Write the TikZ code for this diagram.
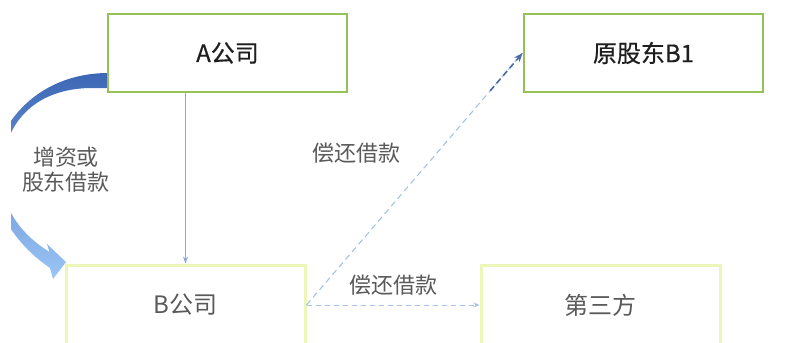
\documentclass[tikz,border=0pt]{standalone}
\usepackage{fontspec}
\setmainfont{Noto Sans CJK SC}
\newfontfamily\cjkmed[FakeBold=0.6]{Noto Sans CJK SC}
\usetikzlibrary{arrows.meta,calc}
\definecolor{boxgreen}{HTML}{96C158}
\definecolor{boxlight}{HTML}{ECF6B8}
\definecolor{arcdark}{HTML}{3C67B5}
\definecolor{arcmid}{HTML}{5E8ED6}
\definecolor{arclight}{HTML}{9CC6F6}
\definecolor{linkblue}{HTML}{8EA8DA}
\definecolor{dashblue}{HTML}{A6C2EA}
\definecolor{dashdark}{HTML}{4A69A6}
\definecolor{txtgray}{HTML}{5A5A5A}
\begin{document}
\begin{tikzpicture}[x=1pt,y=-1pt,
  mainbox/.style={draw=boxgreen, line width=2.8pt, fill=white, minimum width=239pt, minimum height=78pt, inner sep=0pt, font=\cjkmed\fontsize{24}{28}\selectfont, text=black!88},
  lightbox/.style={draw=boxlight, line width=3pt, fill=white, minimum width=239pt, minimum height=80pt, inner sep=0pt, font=\fontsize{24}{28}\selectfont, text=txtgray},
  lbl/.style={font=\fontsize{22}{25}\selectfont, text=txtgray, align=center, inner sep=0pt},
  dashlink/.style={dashblue, line width=1.1pt, dash pattern=on 6pt off 4pt}]
\useasboundingbox (0,0) rectangle (796,343);
\clip (0,0) rectangle (796,343);
% curved arrow
\begin{scope}
\clip (11,0) rectangle (796,343);
\shade[top color=arcdark, middle color=arcmid, bottom color=arclight]
  (108,73) .. controls (58,73) and (12,100) .. (-6,155)
  .. controls (-14,200) and (12,242) .. (50,268)
  -- (53,279) -- (66,262) -- (47,244) -- (49.5,252)
  .. controls (24,236) and (2,212) .. (2,175)
  .. controls (2,125) and (33,89) .. (90,88) -- (108,88) -- cycle;
\end{scope}
% boxes
\node[mainbox] (A) at (227.5,53) {A公司};
\node[mainbox] (B1) at (643.5,53) {原股东B1};
\node[lightbox] (B) at (185.5,305) {B公司};
\node[lightbox] (C) at (600.5,305) {第三方};
% labels
\node[lbl] (L1) at (66,170) {增资或\\股东借款};
\node[lbl] (L2) at (356,153) {偿还借款};
\node[lbl] (L3) at (393,285) {偿还借款};
% connectors
\draw[linkblue, line width=0.9pt, -{Stealth[length=7pt,width=5pt]}] (A.south -| B.north) -- (B.north);
\draw[dashlink] (B.east) -- (B1.west);
\draw[dashdark, line width=1.6pt, dash pattern=on 6pt off 4pt, -{Stealth[length=9pt,width=7pt]}] ($(B.east)!0.85!(B1.west)$) -- (B1.west);
\draw[dashlink, line width=1pt, dash pattern=on 5pt off 4pt, -{Stealth[length=6pt,width=5pt]}] (B.east) -- (C.west);
\end{tikzpicture}
\end{document}
